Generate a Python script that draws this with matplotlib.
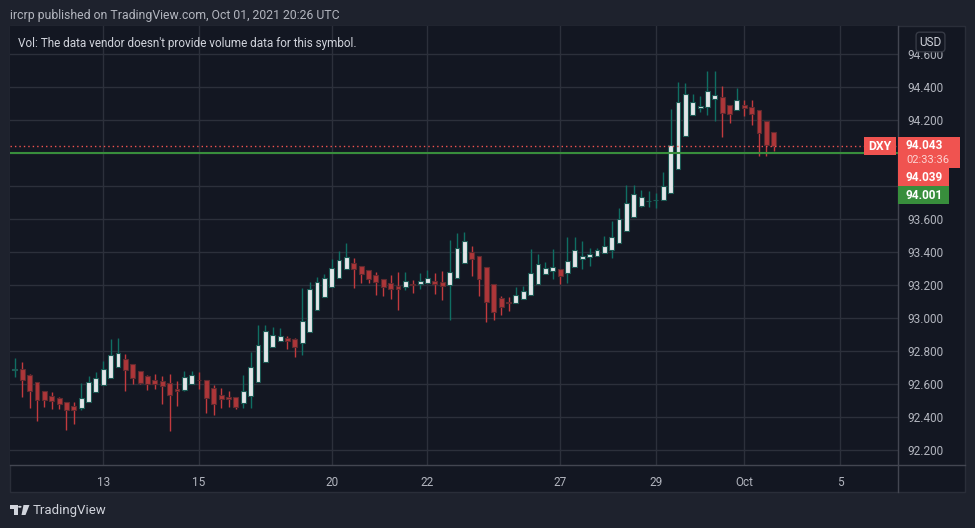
import numpy as np
import matplotlib
matplotlib.use("Agg")
import matplotlib.pyplot as plt
from matplotlib.patches import Rectangle, Polygon, Circle
from matplotlib.lines import Line2D

# ---------------- data (DXY, 4h-style bars) ----------------
opens = [92.685, 92.691, 92.655, 92.612, 92.558, 92.527, 92.515, 92.495, 92.467, 92.455,
         92.491, 92.552, 92.594, 92.640, 92.707, 92.752, 92.721, 92.679, 92.648, 92.624,
         92.618, 92.606, 92.570, 92.564, 92.604, 92.628, 92.624, 92.578, 92.535, 92.521,
         92.521, 92.489, 92.527, 92.612, 92.733, 92.824, 92.863, 92.879, 92.873, 92.848,
         92.915, 93.048, 93.131, 93.188, 93.242, 93.297, 93.335, 93.315, 93.291, 93.261,
         93.240, 93.212, 93.194, 93.188, 93.208, 93.206, 93.212, 93.228, 93.218, 93.204,
         93.242, 93.333, 93.400, 93.376, 93.309, 93.206, 93.121, 93.097, 93.091, 93.115,
         93.139, 93.206, 93.267, 93.285, 93.297, 93.273, 93.309, 93.358, 93.370, 93.376,
         93.394, 93.412, 93.455, 93.527, 93.612, 93.679, 93.711, 93.714, 93.715, 93.758,
         93.903, 94.107, 94.230, 94.273, 94.279, 94.327, 94.339, 94.291, 94.261, 94.291,
         94.279, 94.261, 94.194, 94.127]
highs = [92.760, 92.735, 92.661, 92.612, 92.558, 92.554, 92.523, 92.495, 92.493, 92.608,
         92.650, 92.675, 92.741, 92.875, 92.881, 92.784, 92.721, 92.679, 92.657, 92.665,
         92.650, 92.663, 92.618, 92.681, 92.681, 92.675, 92.624, 92.594, 92.578, 92.560,
         92.521, 92.657, 92.796, 92.962, 92.960, 92.947, 92.941, 92.893, 92.883, 93.184,
         93.222, 93.253, 93.269, 93.362, 93.410, 93.457, 93.366, 93.315, 93.291, 93.279,
         93.240, 93.261, 93.283, 93.281, 93.232, 93.275, 93.293, 93.275, 93.287, 93.475,
         93.516, 93.523, 93.438, 93.376, 93.309, 93.206, 93.135, 93.129, 93.190, 93.194,
         93.420, 93.390, 93.341, 93.420, 93.297, 93.493, 93.493, 93.469, 93.424, 93.424,
         93.499, 93.590, 93.669, 93.808, 93.808, 93.778, 93.772, 93.758, 93.887, 94.269,
         94.432, 94.426, 94.360, 94.347, 94.499, 94.499, 94.408, 94.291, 94.394, 94.321,
         94.321, 94.261, 94.194, 94.127]
lows = [92.644, 92.523, 92.459, 92.380, 92.463, 92.453, 92.453, 92.325, 92.362, 92.446,
        92.491, 92.552, 92.594, 92.640, 92.707, 92.562, 92.604, 92.602, 92.568, 92.572,
        92.483, 92.319, 92.471, 92.560, 92.604, 92.572, 92.426, 92.414, 92.457, 92.463,
        92.451, 92.457, 92.457, 92.612, 92.733, 92.824, 92.863, 92.816, 92.766, 92.780,
        92.915, 93.048, 93.131, 93.188, 93.242, 93.297, 93.186, 93.216, 93.212, 93.141,
        93.137, 93.117, 93.053, 93.174, 93.156, 93.180, 93.212, 93.150, 93.113, 92.992,
        93.242, 93.333, 93.259, 93.135, 92.980, 92.992, 93.020, 93.046, 93.091, 93.115,
        93.139, 93.206, 93.267, 93.240, 93.206, 93.212, 93.309, 93.301, 93.319, 93.376,
        93.394, 93.364, 93.455, 93.527, 93.612, 93.673, 93.677, 93.671, 93.715, 93.758,
        93.903, 94.107, 94.230, 94.253, 94.232, 94.196, 94.101, 94.186, 94.261, 94.228,
        94.174, 93.986, 93.986, 94.016]
closes = [92.695, 92.628, 92.558, 92.503, 92.503, 92.497, 92.479, 92.442, 92.442, 92.519,
          92.612, 92.640, 92.691, 92.776, 92.792, 92.689, 92.640, 92.610, 92.604, 92.604,
          92.592, 92.533, 92.558, 92.642, 92.657, 92.624, 92.519, 92.483, 92.513, 92.513,
          92.465, 92.558, 92.703, 92.838, 92.921, 92.897, 92.891, 92.863, 92.828, 92.982,
          93.176, 93.218, 93.242, 93.303, 93.352, 93.370, 93.297, 93.267, 93.236, 93.218,
          93.188, 93.176, 93.176, 93.224, 93.204, 93.224, 93.242, 93.206, 93.194, 93.279,
          93.424, 93.467, 93.358, 93.236, 93.101, 93.036, 93.067, 93.091, 93.139, 93.164,
          93.273, 93.327, 93.303, 93.309, 93.255, 93.345, 93.412, 93.376, 93.388, 93.412,
          93.436, 93.491, 93.600, 93.697, 93.752, 93.733, 93.713, 93.716, 93.802, 94.053,
          94.309, 94.358, 94.309, 94.285, 94.376, 94.352, 94.242, 94.236, 94.321, 94.273,
          94.236, 94.121, 94.053, 94.043]

time_tick_bars = [12, 25, 43, 56, 74, 87, 99, 112]
time_tick_labels = ["13", "15", "20", "22", "27", "29", "Oct", "5"]
price_ticks = [92.2, 92.4, 92.6, 92.8, 93.0, 93.2, 93.4, 93.6, 93.8, 94.0, 94.2, 94.4, 94.6]
last_price = 94.043
alt_price = 94.039
prev_line_price = 94.001
countdown = "02:33:36"
symbol = "DXY"
header = "ircrp published on TradingView.com, Oct 01, 2021 20:26 UTC"
vol_note = "Vol: The data vendor doesn't provide volume data for this symbol."

# ---------------- style ----------------
W, H = 975, 528
BG_OUT = "#1e222d"
BG = "#131722"
GRID = "#2c303b"
SEP = "#434651"
TXT = "#b2b5be"
UP_FILL, UP_EDGE, UP_WICK = "#e2e5e8", "#1b5a54", "#0f6e63"
DN_FILL, DN_EDGE, DN_WICK = "#ad3639", "#5e2a2f", "#c23a3e"
RED_TAG, GREEN_TAG = "#f05350", "#388e3c"
plt.rcParams["font.family"] = ["Roboto", "DejaVu Sans"]

def fx(px):
    return px / W

def fy(py):  # py measured from the top
    return 1 - py / H

fig = plt.figure(figsize=(W / 100, H / 100), dpi=100, facecolor=BG_OUT)

# chart panel
fig.add_artist(Rectangle((fx(10), fy(492)), fx(955), (492 - 26) / H,
                         transform=fig.transFigure, facecolor=BG,
                         edgecolor="#2a2e39", lw=1, zorder=0))

ax = fig.add_axes([fx(10), fy(465), fx(887.7), (465 - 26) / H])
ax.set_facecolor(BG)

O = np.array(opens); Hh = np.array(highs); L = np.array(lows); C = np.array(closes)
x = np.arange(len(O))
up = C >= O
dn = ~up
body_bot = np.minimum(O, C)
body_h = np.maximum(np.abs(C - O), 0.0015)

ax.vlines(x[up], L[up], Hh[up], color=UP_WICK, lw=1.0, zorder=2)
ax.vlines(x[dn], L[dn], Hh[dn], color=DN_WICK, lw=1.0, zorder=2)
ax.bar(x[up], body_h[up], bottom=body_bot[up], width=0.66, color=UP_FILL,
       edgecolor=UP_EDGE, linewidth=0.8, zorder=3)
ax.bar(x[dn], body_h[dn], bottom=body_bot[dn], width=0.66, color=DN_FILL,
       edgecolor=DN_EDGE, linewidth=0.8, zorder=3)

# lines
ax.axhline(prev_line_price, color=GREEN_TAG, lw=1.5, zorder=4)
ax.axhline(last_price, color=RED_TAG, lw=1.0, ls=(0, (1, 2.2)), zorder=4)

ax.set_xlim(-0.66, 119.82)
ax.set_ylim(92.111, 94.7715)

# price-tag stack geometry (pixels, relative to the last-price level)
fig.canvas.draw()
y_last = ax.transData.transform((0, last_price))[1]  # display px from bottom
top = y_last + 9
stack_bottom = top - 67

ax.set_xticks(time_tick_bars)
ax.set_xticklabels(time_tick_labels)
ax.set_yticks(price_ticks)
ylabels = []
for p in price_ticks:
    yp = ax.transData.transform((0, p))[1]
    # labels hidden behind the price-tag stack are not shown (as in the reference)
    ylabels.append("" if stack_bottom - 6 < yp < top + 6 else f"{p:.3f}")
ax.set_yticklabels(ylabels)
ax.yaxis.tick_right()
ax.tick_params(axis="both", length=0, colors=TXT, labelsize=8.5)
ax.tick_params(axis="x", pad=8)
ax.tick_params(axis="y", pad=7)
ax.grid(True, color=GRID, lw=1.0)
ax.set_axisbelow(True)
for s in ax.spines.values():
    s.set_visible(False)

# axis separators
fig.add_artist(Line2D([fx(10), fx(965)], [fy(465), fy(465)], color=SEP, lw=1,
                      transform=fig.transFigure))
fig.add_artist(Line2D([fx(897.7), fx(897.7)], [fy(26), fy(492)], color=SEP, lw=1,
                      transform=fig.transFigure))

# header and vol note
fig.text(fx(10), fy(15), header, color=TXT, fontsize=8.8, va="center", ha="left")
fig.text(fx(18), fy(43), vol_note, color="#d1d4dc", fontsize=8.5, va="center", ha="left")

# USD box
fig.text(fx(930.5), fy(42), "USD", color="#d1d4dc", fontsize=8.5, ha="center", va="center",
         bbox=dict(boxstyle="round,pad=0.28,rounding_size=0.3", fc=BG, ec="#363a45", lw=1))

def rect(x0, x1, ytop, ybot, color):
    fig.add_artist(Rectangle((x0 / W, ybot / H), (x1 - x0) / W, (ytop - ybot) / H,
                             transform=fig.transFigure, facecolor=color, edgecolor="none",
                             zorder=5))

rect(864, 896, top, top - 18, RED_TAG)
fig.text(880 / W, (top - 9) / H, symbol, color="white", fontsize=8.8, ha="center",
         va="center", zorder=6, fontweight="bold")
rect(897.5, 960, top, top - 31, RED_TAG)
fig.text(906 / W, (top - 8.5) / H, f"{last_price:.3f}", color="white", fontsize=8.5,
         ha="left", va="center", zorder=6, fontweight="bold")
fig.text(906 / W, (top - 23) / H, countdown, color="#fcd3d2", fontsize=8,
         ha="left", va="center", zorder=6)
rect(897.5, 949, top - 31, top - 49, RED_TAG)
fig.text(906 / W, (top - 40) / H, f"{alt_price:.3f}", color="white", fontsize=8.5,
         ha="left", va="center", zorder=6, fontweight="bold")
rect(897.5, 949, top - 49, top - 67, GREEN_TAG)
fig.text(906 / W, (top - 58) / H, f"{prev_line_price:.3f}", color="white", fontsize=8.5,
         ha="left", va="center", zorder=6, fontweight="bold")

# TradingView logo
logo_col = "#d1d4dc"
fig.add_artist(Polygon([(fx(10), fy(505)), (fx(17.5), fy(505)), (fx(17.5), fy(515)),
                        (fx(14), fy(515)), (fx(14), fy(508.5)), (fx(10), fy(508.5))],
                       closed=True, transform=fig.transFigure, fc=logo_col, ec="none"))
fig.add_artist(Circle((fx(19.8), fy(506.8)), 1.8 / W, transform=fig.transFigure,
                      fc=logo_col, ec="none"))
fig.add_artist(Polygon([(fx(23.5), fy(505)), (fx(29.5), fy(505)), (fx(25.5), fy(515)),
                        (fx(21.5), fy(515))],
                       closed=True, transform=fig.transFigure, fc=logo_col, ec="none"))
fig.text(fx(33), fy(510.5), "TradingView", color=logo_col, fontsize=9.5, ha="left",
         va="center")

fig.savefig("out.png", dpi=100, facecolor=BG_OUT)
